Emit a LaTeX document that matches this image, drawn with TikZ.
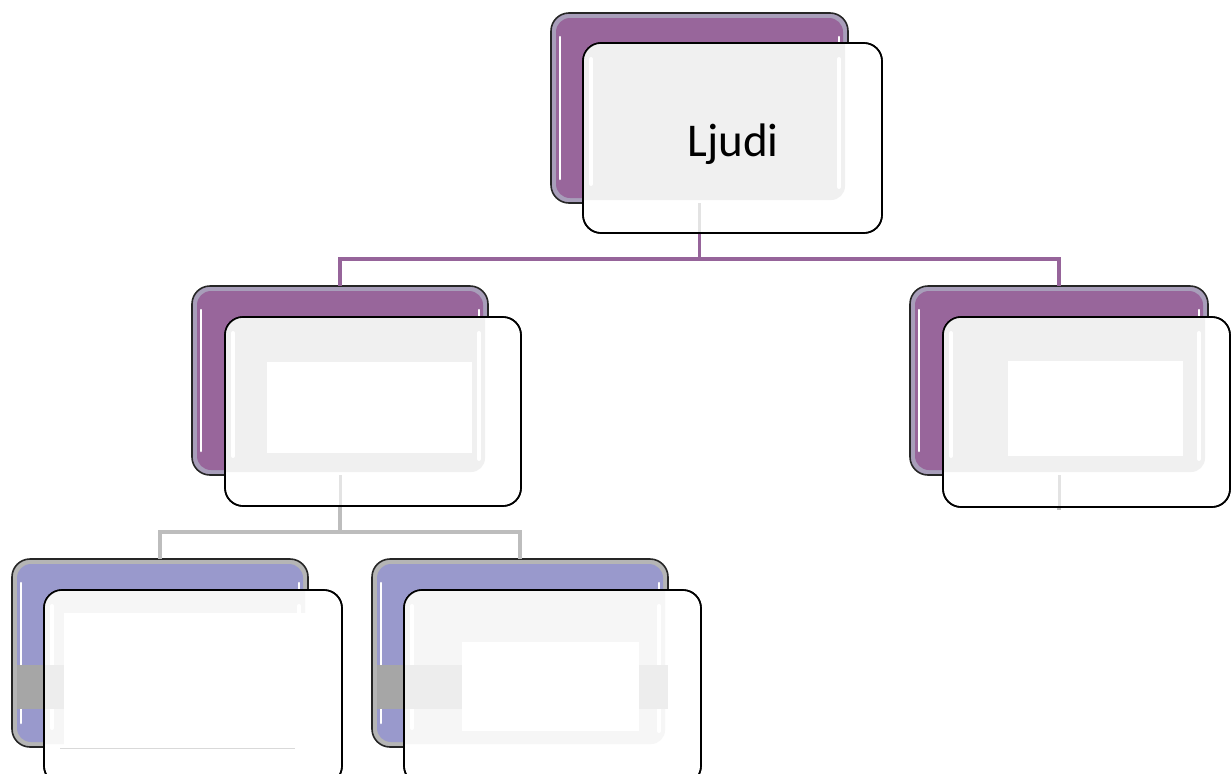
\documentclass[tikz,border=0pt]{standalone}
\usepackage{fontspec}
\setmainfont{Carlito}
\definecolor{fillP}{HTML}{98669B}
\definecolor{ringP}{HTML}{A89EBA}
\definecolor{fillB}{HTML}{9999CC}
\definecolor{ringB}{HTML}{B5B5B5}
\definecolor{lineP}{HTML}{96649A}
\definecolor{lineG}{HTML}{BDBDBD}
\definecolor{ovG}{HTML}{F0F0F0}
\definecolor{ovL}{HTML}{F6F6F6}
\definecolor{bandG}{HTML}{A6A6A6}
\definecolor{bandL}{HTML}{EDEDED}
\definecolor{faintL}{HTML}{E3E3E3}
\newcommand\mybackdeco[2]{%
  \fill[#2, rounded corners=14pt] ([shift={(5,5)}]#1.north west) rectangle ([shift={(-5,-5)}]#1.south east);
  \draw[white, line width=2.5pt, line cap=round] ([shift={(9,24)}]#1.north west) -- ([shift={(9,-24)}]#1.south west);
  \draw[white, line width=2.5pt, line cap=round] ([shift={(-9,24)}]#1.north east) -- ([shift={(-9,-24)}]#1.south east);
}
\newcommand\myoverlay[3]{%
  \begin{scope}
    \clip[rounded corners=18pt] (#2.north west) rectangle (#2.south east);
    \fill[#3, rounded corners=14pt] ([shift={(3,3)}]#1.north west) rectangle ([shift={(-3,-3)}]#1.south east);
    \draw[white, line width=4pt, line cap=round] ([shift={(8,16)}]#2.north west) -- ([shift={(8,-3-16)}]#2.north west |- #1.south);
    \draw[white, line width=4pt, line cap=round] ([shift={(-9,0)}]#1.north east |- #2.north) ++(0,16) -- ([shift={(-9,-16)}]#1.south east);
  \end{scope}
}
\newcommand\myoutline[1]{%
  \draw[black, line width=1.6pt, rounded corners=18pt] (#1.north west) rectangle (#1.south east);
}
\begin{document}
\begin{tikzpicture}[x=1pt,y=-1pt,
  backP/.style={draw=black!85, line width=1.6pt, fill=ringP, rounded corners=18pt, inner sep=0pt, outer sep=0pt, minimum width=296pt, minimum height=189pt},
  backB/.style={draw=black!85, line width=1.6pt, fill=ringB, rounded corners=18pt, inner sep=0pt, outer sep=0pt, minimum width=296pt, minimum height=188pt},
  frontbox/.style={draw=black, line width=1.6pt, fill=white, rounded corners=18pt, inner sep=0pt, outer sep=0pt, minimum width=297pt, minimum height=189pt},
  conP/.style={draw=lineP, line width=3.5pt},
  conG/.style={draw=lineG, line width=3.5pt},
  faint/.style={draw=faintL, line width=3pt}]
\useasboundingbox (0,0) rectangle (1232,774);

% back boxes
\node[backP, minimum width=297pt, minimum height=190pt] (tb) at (699.5,108) {};
\node[backP] (mlb) at (340,380.5) {};
\node[backP, minimum width=298pt] (rb) at (1059,380.5) {};
\node[backB] (blb) at (160,653) {};
\node[backB] (brb) at (520,653) {};

\mybackdeco{tb}{fillP}
\mybackdeco{mlb}{fillP}
\mybackdeco{rb}{fillP}
\mybackdeco{blb}{fillB}
\mybackdeco{brb}{fillB}
% gray band in lower back boxes
\fill[bandG] ([shift={(5,0)}]blb.west |- 0,665) rectangle ([shift={(-5,0)}]blb.east |- 0,709);
\fill[bandG] ([shift={(5,0)}]brb.west |- 0,665) rectangle ([shift={(-5,0)}]brb.east |- 0,709);

% connectors
\draw[conP] (tb.south) -- ++(0,56) -| (mlb.north);
\draw[conP] (tb.south) -- ++(0,56) -| (rb.north);
\draw[conG] (mlb.south) -- ++(0,57) -| (blb.north);
\draw[conG] (mlb.south) -- ++(0,57) -| (brb.north);
\draw[conG] (rb.south) -- ++(0,35);

% front boxes
\node[frontbox, minimum width=299pt, minimum height=190pt] (tf) at (732.5,138) {};
\node[frontbox, minimum width=296pt] (mlf) at (373,411.5) {};
\node[frontbox, minimum width=287pt, minimum height=190pt] (rf) at (1086.5,412) {};
\node[frontbox, minimum width=298pt, minimum height=194pt] (blf) at (193,687) {};
\node[frontbox, minimum width=297pt, minimum height=194pt] (brf) at (552.5,687) {};

\myoverlay{tb}{tf}{ovG}
\myoverlay{mlb}{mlf}{ovG}
\myoverlay{rb}{rf}{ovG}
\myoverlay{blb}{blf}{ovL}
\myoverlay{brb}{brf}{ovL}

% placeholders
\fill[white] (267,362) rectangle (472,453);
\fill[white] (1008,361) rectangle (1183,456);
\fill[bandL] (404,665) rectangle (668,709);
\fill[white] (462,642) rectangle (639,731);
\fill[bandL] (44,665) rectangle (64,709);
\fill[white] (64,613) rectangle (308,748);
\draw[black!15, line width=1pt] (60,748) -- (295,748);

% faint connector traces through the front boxes
\draw[faint] (tb.south) -- (tb.south |- tf.south);
\draw[faint] (mlb.south) -- (mlb.south |- mlf.south);
\draw[faint] (rb.south) -- (rb.south |- rf.south);

\myoutline{tf}
\myoutline{mlf}
\myoutline{rf}
\myoutline{blf}
\myoutline{brf}

\node[font=\fontsize{47}{50}\selectfont, anchor=base, inner sep=0pt] (ljudi) at (733,156) {Ljudi};
\end{tikzpicture}
\end{document}
